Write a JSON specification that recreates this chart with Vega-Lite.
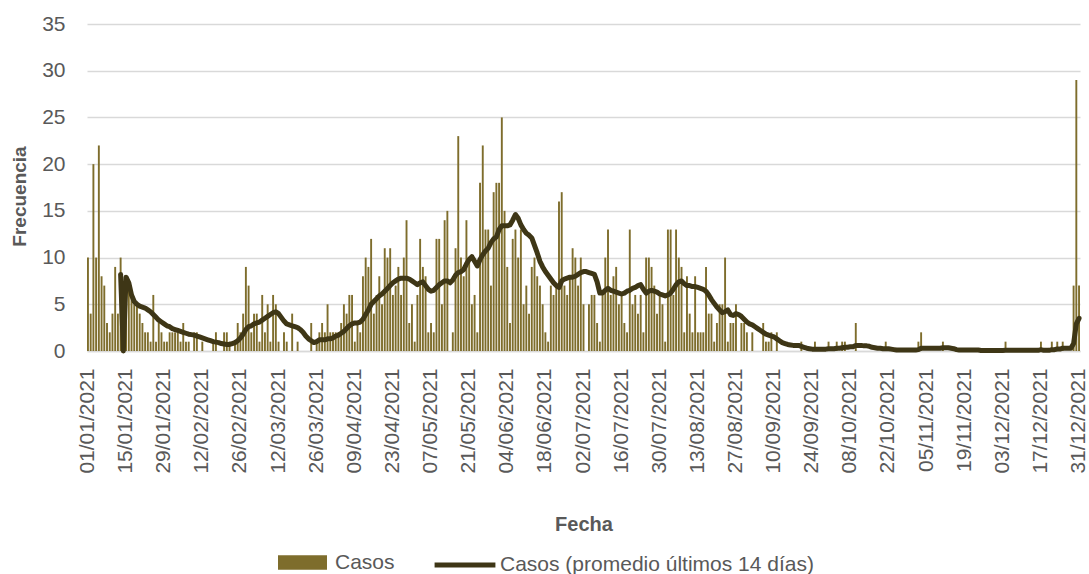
{
"$schema":"https://vega.github.io/schema/vega-lite/v6.json",
"width":993,"height":327,
"autosize":{"type":"none"},
"padding":{"left":87,"top":24,"right":9,"bottom":223},
"background":"white",
"config":{"font":"Liberation Sans","view":{"stroke":null}},
"data":{"values":[
{"f":"01/01/2021","c":10,"m":null},{"f":"02/01/2021","c":4,"m":null},{"f":"03/01/2021","c":20,"m":null},{"f":"04/01/2021","c":10,"m":null},{"f":"05/01/2021","c":22,"m":null},{"f":"06/01/2021","c":8,"m":null},{"f":"07/01/2021","c":7,"m":null},{"f":"08/01/2021","c":3,"m":null},{"f":"09/01/2021","c":2,"m":null},{"f":"10/01/2021","c":4,"m":null},{"f":"11/01/2021","c":9,"m":null},{"f":"12/01/2021","c":4,"m":null},{"f":"13/01/2021","c":10,"m":8.2},{"f":"14/01/2021","c":0,"m":0},{"f":"15/01/2021","c":8,"m":7.9},{"f":"16/01/2021","c":7,"m":7.3},{"f":"17/01/2021","c":6,"m":6.0},{"f":"18/01/2021","c":5,"m":5.3},{"f":"19/01/2021","c":5,"m":5.0},{"f":"20/01/2021","c":4,"m":4.8},{"f":"21/01/2021","c":3,"m":4.7},{"f":"22/01/2021","c":2,"m":4.6},{"f":"23/01/2021","c":2,"m":4.4},{"f":"24/01/2021","c":1,"m":4.2},{"f":"25/01/2021","c":6,"m":3.9},{"f":"26/01/2021","c":1,"m":3.6},{"f":"27/01/2021","c":3,"m":3.3},{"f":"28/01/2021","c":2,"m":3.1},{"f":"29/01/2021","c":1,"m":2.9},{"f":"30/01/2021","c":1,"m":2.7},{"f":"31/01/2021","c":2,"m":2.6},
{"f":"01/02/2021","c":2,"m":2.4},{"f":"02/02/2021","c":2,"m":2.3},{"f":"03/02/2021","c":2,"m":2.2},{"f":"04/02/2021","c":1,"m":2.1},{"f":"05/02/2021","c":3,"m":2.0},{"f":"06/02/2021","c":1,"m":1.9},{"f":"07/02/2021","c":1,"m":1.8},{"f":"08/02/2021","c":0,"m":1.75},{"f":"09/02/2021","c":2,"m":1.7},{"f":"10/02/2021","c":2,"m":1.6},{"f":"11/02/2021","c":0,"m":1.5},{"f":"12/02/2021","c":1,"m":1.4},{"f":"13/02/2021","c":0,"m":1.3},{"f":"14/02/2021","c":0,"m":1.2},{"f":"15/02/2021","c":0,"m":1.1},{"f":"16/02/2021","c":1,"m":1.0},{"f":"17/02/2021","c":2,"m":0.95},{"f":"18/02/2021","c":0,"m":0.9},{"f":"19/02/2021","c":0,"m":0.8},{"f":"20/02/2021","c":2,"m":0.75},{"f":"21/02/2021","c":2,"m":0.7},{"f":"22/02/2021","c":1,"m":0.7},{"f":"23/02/2021","c":0,"m":0.8},{"f":"24/02/2021","c":1,"m":0.9},{"f":"25/02/2021","c":3,"m":1.1},{"f":"26/02/2021","c":2,"m":1.4},{"f":"27/02/2021","c":4,"m":1.8},{"f":"28/02/2021","c":9,"m":2.3},
{"f":"01/03/2021","c":7,"m":2.6},{"f":"02/03/2021","c":2,"m":2.7},{"f":"03/03/2021","c":4,"m":2.9},{"f":"04/03/2021","c":4,"m":3.0},{"f":"05/03/2021","c":1,"m":3.1},{"f":"06/03/2021","c":6,"m":3.3},{"f":"07/03/2021","c":2,"m":3.5},{"f":"08/03/2021","c":5,"m":3.7},{"f":"09/03/2021","c":1,"m":3.9},{"f":"10/03/2021","c":6,"m":4.1},{"f":"11/03/2021","c":5,"m":4.2},{"f":"12/03/2021","c":1,"m":4.0},{"f":"13/03/2021","c":0,"m":3.6},{"f":"14/03/2021","c":2,"m":3.2},{"f":"15/03/2021","c":1,"m":2.9},{"f":"16/03/2021","c":0,"m":2.8},{"f":"17/03/2021","c":4,"m":2.7},{"f":"18/03/2021","c":0,"m":2.6},{"f":"19/03/2021","c":1,"m":2.5},{"f":"20/03/2021","c":0,"m":2.3},{"f":"21/03/2021","c":0,"m":2.0},{"f":"22/03/2021","c":0,"m":1.6},{"f":"23/03/2021","c":0,"m":1.3},{"f":"24/03/2021","c":3,"m":1.1},{"f":"25/03/2021","c":0,"m":0.9},{"f":"26/03/2021","c":1,"m":1.0},{"f":"27/03/2021","c":2,"m":1.2},{"f":"28/03/2021","c":3,"m":1.2},{"f":"29/03/2021","c":2,"m":1.2},{"f":"30/03/2021","c":5,"m":1.3},{"f":"31/03/2021","c":2,"m":1.3},
{"f":"01/04/2021","c":2,"m":1.4},{"f":"02/04/2021","c":2,"m":1.6},{"f":"03/04/2021","c":2,"m":1.7},{"f":"04/04/2021","c":3,"m":1.9},{"f":"05/04/2021","c":5,"m":2.1},{"f":"06/04/2021","c":4,"m":2.4},{"f":"07/04/2021","c":6,"m":2.7},{"f":"08/04/2021","c":6,"m":2.9},{"f":"09/04/2021","c":1,"m":3.0},{"f":"10/04/2021","c":3,"m":3.0},{"f":"11/04/2021","c":2,"m":3.1},{"f":"12/04/2021","c":8,"m":3.4},{"f":"13/04/2021","c":10,"m":3.9},{"f":"14/04/2021","c":9,"m":4.4},{"f":"15/04/2021","c":12,"m":5.0},{"f":"16/04/2021","c":4,"m":5.3},{"f":"17/04/2021","c":6,"m":5.6},{"f":"18/04/2021","c":8,"m":5.9},{"f":"19/04/2021","c":5,"m":6.1},{"f":"20/04/2021","c":11,"m":6.4},{"f":"21/04/2021","c":10,"m":6.7},{"f":"22/04/2021","c":11,"m":7.0},{"f":"23/04/2021","c":6,"m":7.3},{"f":"24/04/2021","c":7,"m":7.5},{"f":"25/04/2021","c":9,"m":7.7},{"f":"26/04/2021","c":6,"m":7.8},{"f":"27/04/2021","c":10,"m":7.8},{"f":"28/04/2021","c":14,"m":7.8},{"f":"29/04/2021","c":3,"m":7.7},{"f":"30/04/2021","c":5,"m":7.5},
{"f":"01/05/2021","c":1,"m":7.3},{"f":"02/05/2021","c":6,"m":7.1},{"f":"03/05/2021","c":12,"m":7.3},{"f":"04/05/2021","c":9,"m":7.4},{"f":"05/05/2021","c":8,"m":7.0},{"f":"06/05/2021","c":2,"m":6.6},{"f":"07/05/2021","c":3,"m":6.4},{"f":"08/05/2021","c":2,"m":6.5},{"f":"09/05/2021","c":12,"m":6.8},{"f":"10/05/2021","c":12,"m":7.1},{"f":"11/05/2021","c":5,"m":7.3},{"f":"12/05/2021","c":14,"m":7.5},{"f":"13/05/2021","c":15,"m":7.5},{"f":"14/05/2021","c":0,"m":7.3},{"f":"15/05/2021","c":2,"m":7.6},{"f":"16/05/2021","c":11,"m":8.1},{"f":"17/05/2021","c":23,"m":8.4},{"f":"18/05/2021","c":10,"m":8.5},{"f":"19/05/2021","c":8,"m":8.7},{"f":"20/05/2021","c":14,"m":9.3},{"f":"21/05/2021","c":10,"m":9.8},{"f":"22/05/2021","c":5,"m":10.1},{"f":"23/05/2021","c":6,"m":9.6},{"f":"24/05/2021","c":2,"m":9.1},{"f":"25/05/2021","c":18,"m":9.8},{"f":"26/05/2021","c":22,"m":10.3},{"f":"27/05/2021","c":13,"m":10.7},{"f":"28/05/2021","c":13,"m":11.0},{"f":"29/05/2021","c":7,"m":11.6},{"f":"30/05/2021","c":17,"m":12.0},{"f":"31/05/2021","c":18,"m":12.2},
{"f":"01/06/2021","c":18,"m":13.0},{"f":"02/06/2021","c":25,"m":13.4},{"f":"03/06/2021","c":15,"m":13.4},{"f":"04/06/2021","c":9,"m":13.4},{"f":"05/06/2021","c":3,"m":13.5},{"f":"06/06/2021","c":12,"m":14.0},{"f":"07/06/2021","c":13,"m":14.6},{"f":"08/06/2021","c":10,"m":14.2},{"f":"09/06/2021","c":13,"m":13.5},{"f":"10/06/2021","c":5,"m":13.0},{"f":"11/06/2021","c":7,"m":12.6},{"f":"12/06/2021","c":4,"m":12.4},{"f":"13/06/2021","c":9,"m":12.1},{"f":"14/06/2021","c":10,"m":11.3},{"f":"15/06/2021","c":8,"m":10.5},{"f":"16/06/2021","c":7,"m":9.6},{"f":"17/06/2021","c":5,"m":9.0},{"f":"18/06/2021","c":2,"m":8.5},{"f":"19/06/2021","c":1,"m":8.1},{"f":"20/06/2021","c":7,"m":7.7},{"f":"21/06/2021","c":6,"m":7.3},{"f":"22/06/2021","c":7,"m":7.0},{"f":"23/06/2021","c":16,"m":6.8},{"f":"24/06/2021","c":17,"m":7.5},{"f":"25/06/2021","c":7,"m":7.7},{"f":"26/06/2021","c":6,"m":7.8},{"f":"27/06/2021","c":8,"m":7.9},{"f":"28/06/2021","c":11,"m":7.9},{"f":"29/06/2021","c":10,"m":8.0},{"f":"30/06/2021","c":7,"m":8.2},
{"f":"01/07/2021","c":10,"m":8.4},{"f":"02/07/2021","c":5,"m":8.5},{"f":"03/07/2021","c":0,"m":8.5},{"f":"04/07/2021","c":5,"m":8.4},{"f":"05/07/2021","c":6,"m":8.3},{"f":"06/07/2021","c":6,"m":8.2},{"f":"07/07/2021","c":3,"m":7.4},{"f":"08/07/2021","c":1,"m":6.2},{"f":"09/07/2021","c":6,"m":6.2},{"f":"10/07/2021","c":10,"m":6.5},{"f":"11/07/2021","c":13,"m":6.7},{"f":"12/07/2021","c":6,"m":6.5},{"f":"13/07/2021","c":8,"m":6.4},{"f":"14/07/2021","c":9,"m":6.3},{"f":"15/07/2021","c":5,"m":6.2},{"f":"16/07/2021","c":6,"m":6.1},{"f":"17/07/2021","c":3,"m":6.2},{"f":"18/07/2021","c":2,"m":6.4},{"f":"19/07/2021","c":13,"m":6.5},{"f":"20/07/2021","c":5,"m":6.7},{"f":"21/07/2021","c":6,"m":6.8},{"f":"22/07/2021","c":4,"m":7.0},{"f":"23/07/2021","c":6,"m":7.1},{"f":"24/07/2021","c":2,"m":6.6},{"f":"25/07/2021","c":10,"m":6.2},{"f":"26/07/2021","c":10,"m":6.4},{"f":"27/07/2021","c":9,"m":6.5},{"f":"28/07/2021","c":7,"m":6.4},{"f":"29/07/2021","c":4,"m":6.3},{"f":"30/07/2021","c":6,"m":6.1},{"f":"31/07/2021","c":5,"m":6.0},
{"f":"01/08/2021","c":1,"m":5.9},{"f":"02/08/2021","c":13,"m":6.0},{"f":"03/08/2021","c":13,"m":6.2},{"f":"04/08/2021","c":6,"m":6.6},{"f":"05/08/2021","c":13,"m":7.1},{"f":"06/08/2021","c":10,"m":7.4},{"f":"07/08/2021","c":9,"m":7.5},{"f":"08/08/2021","c":2,"m":7.2},{"f":"09/08/2021","c":8,"m":7.0},{"f":"10/08/2021","c":4,"m":7.0},{"f":"11/08/2021","c":2,"m":6.9},{"f":"12/08/2021","c":8,"m":6.9},{"f":"13/08/2021","c":2,"m":6.8},{"f":"14/08/2021","c":2,"m":6.7},{"f":"15/08/2021","c":2,"m":6.6},{"f":"16/08/2021","c":9,"m":6.4},{"f":"17/08/2021","c":4,"m":6.0},{"f":"18/08/2021","c":4,"m":5.5},{"f":"19/08/2021","c":1,"m":5.1},{"f":"20/08/2021","c":3,"m":4.7},{"f":"21/08/2021","c":5,"m":4.4},{"f":"22/08/2021","c":5,"m":4.1},{"f":"23/08/2021","c":10,"m":4.2},{"f":"24/08/2021","c":1,"m":4.4},{"f":"25/08/2021","c":3,"m":3.9},{"f":"26/08/2021","c":3,"m":3.8},{"f":"27/08/2021","c":5,"m":4.0},{"f":"28/08/2021","c":0,"m":3.9},{"f":"29/08/2021","c":3,"m":3.7},{"f":"30/08/2021","c":3,"m":3.4},{"f":"31/08/2021","c":2,"m":3.1},
{"f":"01/09/2021","c":0,"m":2.9},{"f":"02/09/2021","c":2,"m":2.8},{"f":"03/09/2021","c":0,"m":2.6},{"f":"04/09/2021","c":0,"m":2.4},{"f":"05/09/2021","c":0,"m":2.2},{"f":"06/09/2021","c":3,"m":2.0},{"f":"07/09/2021","c":1,"m":1.8},{"f":"08/09/2021","c":1,"m":1.7},{"f":"09/09/2021","c":2,"m":1.6},{"f":"10/09/2021","c":0,"m":1.5},{"f":"11/09/2021","c":2,"m":1.3},{"f":"12/09/2021","c":0,"m":1.1},{"f":"13/09/2021","c":0,"m":0.9},{"f":"14/09/2021","c":0,"m":0.8},{"f":"15/09/2021","c":0,"m":0.7},{"f":"16/09/2021","c":0,"m":0.65},{"f":"17/09/2021","c":0,"m":0.6},{"f":"18/09/2021","c":0,"m":0.6},{"f":"19/09/2021","c":0,"m":0.6},{"f":"20/09/2021","c":1,"m":0.5},{"f":"21/09/2021","c":0,"m":0.4},{"f":"22/09/2021","c":0,"m":0.3},{"f":"23/09/2021","c":0,"m":0.25},{"f":"24/09/2021","c":0,"m":0.2},{"f":"25/09/2021","c":1,"m":0.2},{"f":"26/09/2021","c":0,"m":0.2},{"f":"27/09/2021","c":0,"m":0.2},{"f":"28/09/2021","c":0,"m":0.2},{"f":"29/09/2021","c":0,"m":0.2},{"f":"30/09/2021","c":1,"m":0.25},
{"f":"01/10/2021","c":0,"m":0.25},{"f":"02/10/2021","c":0,"m":0.25},{"f":"03/10/2021","c":1,"m":0.3},{"f":"04/10/2021","c":0,"m":0.3},{"f":"05/10/2021","c":1,"m":0.35},{"f":"06/10/2021","c":1,"m":0.4},{"f":"07/10/2021","c":0,"m":0.4},{"f":"08/10/2021","c":0,"m":0.45},{"f":"09/10/2021","c":0,"m":0.45},{"f":"10/10/2021","c":3,"m":0.6},{"f":"11/10/2021","c":0,"m":0.6},{"f":"12/10/2021","c":0,"m":0.6},{"f":"13/10/2021","c":0,"m":0.55},{"f":"14/10/2021","c":0,"m":0.55},{"f":"15/10/2021","c":0,"m":0.5},{"f":"16/10/2021","c":0,"m":0.4},{"f":"17/10/2021","c":0,"m":0.35},{"f":"18/10/2021","c":0,"m":0.3},{"f":"19/10/2021","c":0,"m":0.3},{"f":"20/10/2021","c":0,"m":0.25},{"f":"21/10/2021","c":1,"m":0.25},{"f":"22/10/2021","c":0,"m":0.25},{"f":"23/10/2021","c":0,"m":0.2},{"f":"24/10/2021","c":0,"m":0.15},{"f":"25/10/2021","c":0,"m":0.1},{"f":"26/10/2021","c":0,"m":0.1},{"f":"27/10/2021","c":0,"m":0.1},{"f":"28/10/2021","c":0,"m":0.1},{"f":"29/10/2021","c":0,"m":0.1},{"f":"30/10/2021","c":0,"m":0.1},{"f":"31/10/2021","c":0,"m":0.1},
{"f":"01/11/2021","c":0,"m":0.1},{"f":"02/11/2021","c":1,"m":0.15},{"f":"03/11/2021","c":2,"m":0.3},{"f":"04/11/2021","c":0,"m":0.3},{"f":"05/11/2021","c":0,"m":0.3},{"f":"06/11/2021","c":0,"m":0.3},{"f":"07/11/2021","c":0,"m":0.3},{"f":"08/11/2021","c":0,"m":0.3},{"f":"09/11/2021","c":0,"m":0.3},{"f":"10/11/2021","c":0,"m":0.3},{"f":"11/11/2021","c":1,"m":0.35},{"f":"12/11/2021","c":0,"m":0.35},{"f":"13/11/2021","c":0,"m":0.35},{"f":"14/11/2021","c":0,"m":0.3},{"f":"15/11/2021","c":0,"m":0.25},{"f":"16/11/2021","c":0,"m":0.15},{"f":"17/11/2021","c":0,"m":0.1},{"f":"18/11/2021","c":0,"m":0.1},{"f":"19/11/2021","c":0,"m":0.1},{"f":"20/11/2021","c":0,"m":0.1},{"f":"21/11/2021","c":0,"m":0.1},{"f":"22/11/2021","c":0,"m":0.1},{"f":"23/11/2021","c":0,"m":0.1},{"f":"24/11/2021","c":0,"m":0.1},{"f":"25/11/2021","c":0,"m":0.05},{"f":"26/11/2021","c":0,"m":0.05},{"f":"27/11/2021","c":0,"m":0.05},{"f":"28/11/2021","c":0,"m":0.05},{"f":"29/11/2021","c":0,"m":0.05},{"f":"30/11/2021","c":0,"m":0.05},
{"f":"01/12/2021","c":0,"m":0.05},{"f":"02/12/2021","c":0,"m":0.05},{"f":"03/12/2021","c":0,"m":0.05},{"f":"04/12/2021","c":1,"m":0.07},{"f":"05/12/2021","c":0,"m":0.07},{"f":"06/12/2021","c":0,"m":0.07},{"f":"07/12/2021","c":0,"m":0.07},{"f":"08/12/2021","c":0,"m":0.07},{"f":"09/12/2021","c":0,"m":0.07},{"f":"10/12/2021","c":0,"m":0.07},{"f":"11/12/2021","c":0,"m":0.07},{"f":"12/12/2021","c":0,"m":0.07},{"f":"13/12/2021","c":0,"m":0.07},{"f":"14/12/2021","c":0,"m":0.07},{"f":"15/12/2021","c":0,"m":0.07},{"f":"16/12/2021","c":0,"m":0.07},{"f":"17/12/2021","c":1,"m":0.14},{"f":"18/12/2021","c":0,"m":0.07},{"f":"19/12/2021","c":0,"m":0.07},{"f":"20/12/2021","c":0,"m":0.07},{"f":"21/12/2021","c":1,"m":0.14},{"f":"22/12/2021","c":0,"m":0.14},{"f":"23/12/2021","c":1,"m":0.21},{"f":"24/12/2021","c":0,"m":0.21},{"f":"25/12/2021","c":1,"m":0.3},{"f":"26/12/2021","c":0,"m":0.3},{"f":"27/12/2021","c":0,"m":0.3},{"f":"28/12/2021","c":0,"m":0.3},{"f":"29/12/2021","c":7,"m":0.8},{"f":"30/12/2021","c":29,"m":2.9},{"f":"31/12/2021","c":7,"m":3.5}
]},
"encoding":{
 "x":{"field":"f","type":"ordinal","sort":null,
  "scale":{"paddingInner":0.3,"paddingOuter":0},
  "axis":{"values":["01/01/2021","15/01/2021","29/01/2021","12/02/2021","26/02/2021","12/03/2021","26/03/2021","09/04/2021","23/04/2021","07/05/2021","21/05/2021","04/06/2021","18/06/2021","02/07/2021","16/07/2021","30/07/2021","13/08/2021","27/08/2021","10/09/2021","24/09/2021","08/10/2021","22/10/2021","05/11/2021","19/11/2021","03/12/2021","17/12/2021","31/12/2021"],
   "labelAngle":-90,"labelFontSize":21,"labelColor":"#595959","labelPadding":17,"labelFont":"Liberation Sans",
   "ticks":false,"domain":true,"domainColor":"#d9d9d9","domainWidth":1.5,"grid":false,
   "title":"Fecha","titleFontSize":20,"titleFontWeight":"bold","titleColor":"#595959","titlePadding":41,"titleFont":"Liberation Sans"}}
},
"layer":[
 {"mark":{"type":"bar"},
  "encoding":{
   "y":{"field":"c","type":"quantitative","scale":{"domain":[0,35],"nice":false},
    "axis":{"values":[0,5,10,15,20,25,30,35],"labelFontSize":21,"labelColor":"#595959","labelPadding":22,"labelFont":"Liberation Sans",
     "ticks":false,"domain":false,"grid":true,"gridColor":"#d9d9d9","gridWidth":1.5,
     "title":"Frecuencia","titleFontSize":19,"titleFontWeight":"bold","titleColor":"#595959","titlePadding":12,"titleY":172,"titleFont":"Liberation Sans"}},
   "fill":{"datum":"Casos","type":"nominal","scale":{"range":["#7e6d2c"]},
    "legend":{"orient":"none","legendX":191,"legendY":514,"title":null,"symbolType":"M-1,-0.3H1V0.3H-1Z","symbolSize":2400,"symbolStrokeWidth":0,"labelFontSize":21,"labelColor":"#595959","labelFont":"Liberation Sans","labelOffset":8,"labelLimit":500,"padding":0}}
  }},
 {"mark":{"type":"line","strokeWidth":5,"strokeJoin":"round","strokeCap":"round"},
  "encoding":{
   "y":{"field":"m","type":"quantitative","axis":{"title":"Frecuencia"}},
   "stroke":{"datum":"Casos (promedio últimos 14 días)","type":"nominal","scale":{"range":["#3e3616"]},
    "legend":{"orient":"none","legendX":345,"legendY":508,"title":null,"symbolType":"stroke","symbolSize":3700,"symbolStrokeWidth":5,"labelFontSize":21,"labelColor":"#595959","labelFont":"Liberation Sans","labelOffset":2,"labelLimit":500,"padding":0}}
  }}
]
}
